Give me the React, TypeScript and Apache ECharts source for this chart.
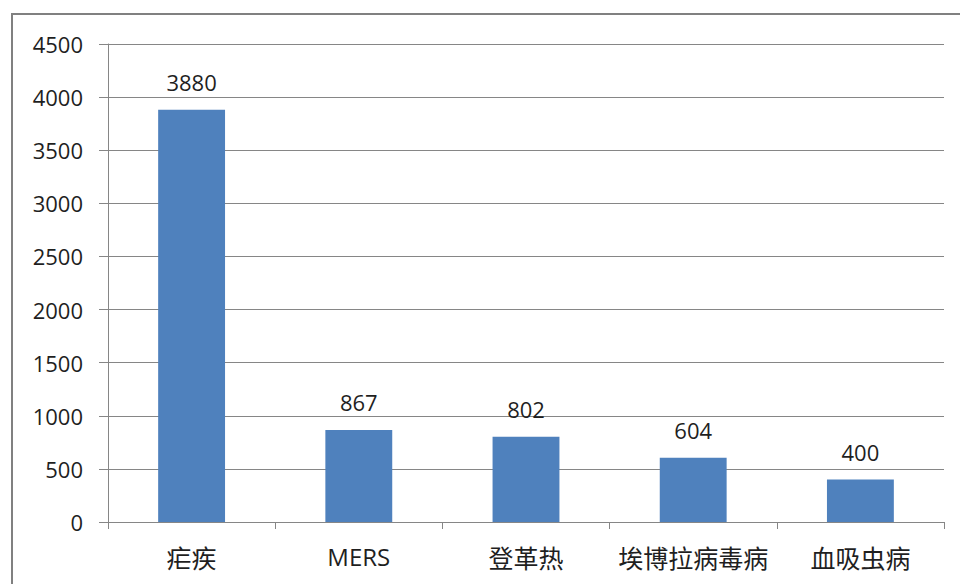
import React, { useEffect, useRef } from "react";
import * as echarts from "echarts";

const categories = ["疟疾", "MERS", "登革热", "埃博拉病毒病", "血吸虫病"];
const values = [3880, 867, 802, 604, 400];
const yTicks = { min: 0, max: 4500, interval: 500 };

const GRAY = "#868686";
const TEXT = "#1f1f1f";

export default function App() {
  const ref = useRef<HTMLDivElement>(null);
  useEffect(() => {
    if (!ref.current) return;
    const chart = echarts.init(ref.current, undefined, { renderer: "svg" });
    chart.setOption({
      animation: false,
      backgroundColor: "#ffffff",
      grid: { left: 108, right: 16, top: 44, bottom: 62, containLabel: false },
      graphic: [
        {
          type: "rect",
          shape: { x: 12, y: 14, width: 1200, height: 1200 },
          style: { fill: "none", stroke: "#808080", lineWidth: 2 },
          silent: true,
        },
      ],
      xAxis: {
        type: "category",
        data: categories,
        axisLine: { show: true, lineStyle: { color: GRAY, width: 1 } },
        axisTick: { show: true, length: 7, alignWithLabel: false, lineStyle: { color: GRAY } },
        axisLabel: {
          margin: 22,
          color: TEXT,
          formatter: (v: string) => (/^[A-Za-z0-9]+$/.test(v) ? `{l|${v}}` : `{c|${v}}`),
          rich: {
            l: { fontFamily: "Open Sans", fontSize: 24, color: TEXT },
            c: { fontFamily: "Noto Sans CJK SC", fontSize: 25, color: TEXT },
          },
        },
      },
      yAxis: {
        type: "value",
        min: yTicks.min,
        max: yTicks.max,
        interval: yTicks.interval,
        axisLine: { show: true, lineStyle: { color: GRAY, width: 1 } },
        axisTick: { show: true, length: 9, lineStyle: { color: GRAY } },
        axisLabel: {
          margin: 25,
          color: TEXT,
          fontFamily: "Open Sans",
          fontSize: 22,
          formatter: (v: number) => String(v),
        },
        splitLine: { show: true, lineStyle: { color: GRAY, width: 1 } },
      },
      series: [
        {
          type: "bar",
          data: values,
          barWidth: "40%",
          itemStyle: { color: "#4F81BD" },
          label: {
            show: true,
            position: "top",
            distance: 17,
            color: TEXT,
            fontFamily: "Open Sans",
            fontSize: 22,
          },
        },
      ],
    });
    return () => chart.dispose();
  }, []);
  return (
    <div
      ref={ref}
      style={{ position: "fixed", left: 0, top: 0, width: 960, height: 584 }}
    />
  );
}
